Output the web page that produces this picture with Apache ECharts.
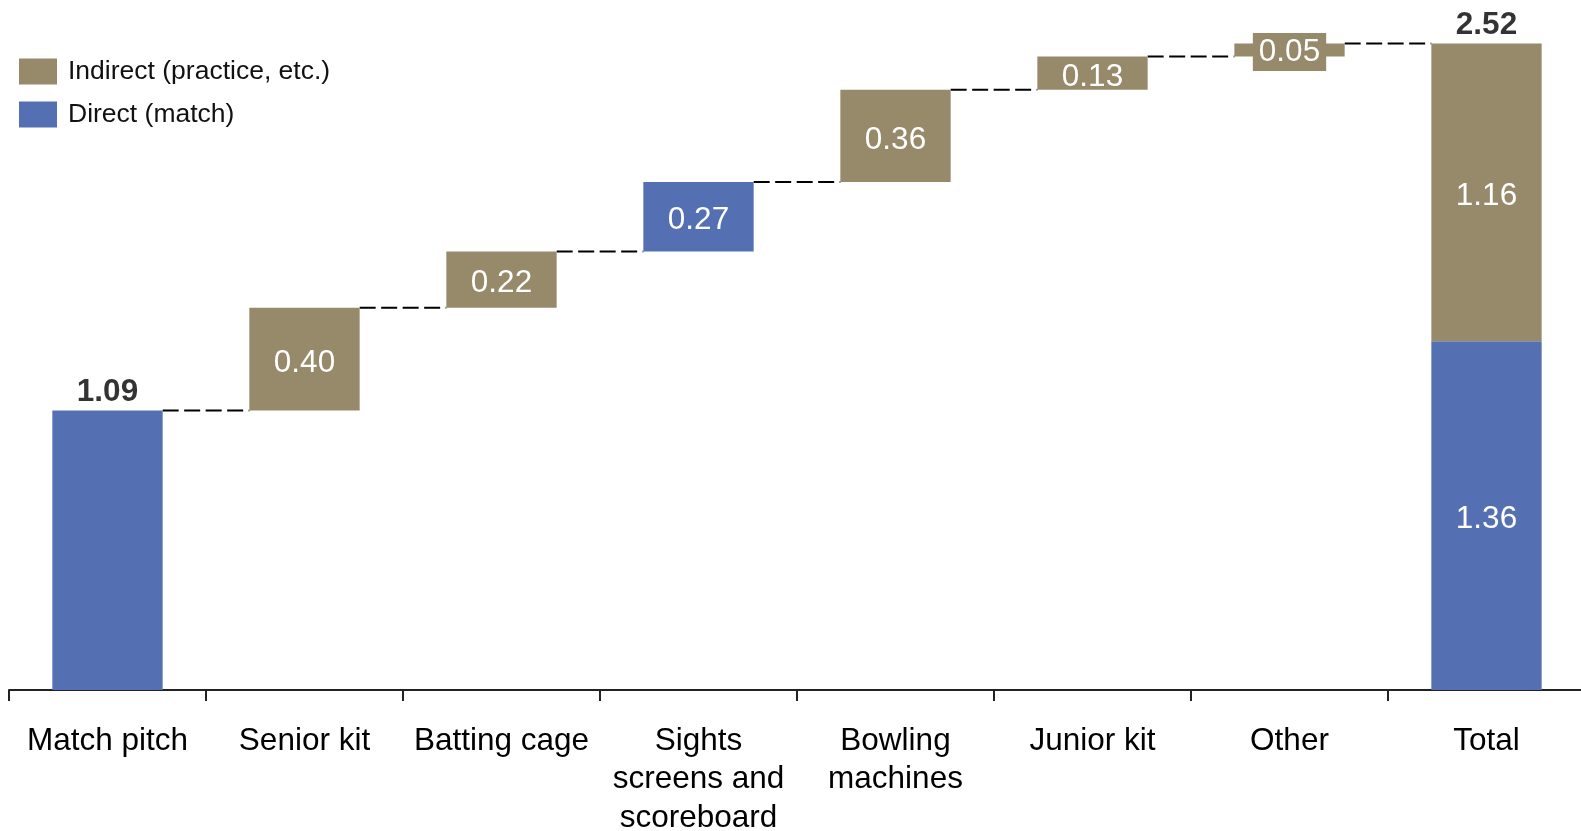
<!DOCTYPE html>
<html>
<head>
<meta charset="utf-8">
<script src="https://cdn.jsdelivr.net/npm/echarts@6/dist/echarts.min.js"></script>
<style>
  html, body { margin: 0; padding: 0; background: #fff; }
  #chart { width: 1581px; height: 831px; }
</style>
</head>
<body>
<div id="chart"></div>
<script>
// Cost build-up: each step is either a direct (match) or indirect (practice) item
const categories = ['Match pitch', 'Senior kit', 'Batting cage', 'Sights\nscreens and\nscoreboard', 'Bowling\nmachines', 'Junior kit', 'Other', 'Total'];
const directValues = [1.09, null, null, 0.27, null, null, null, 1.36];
const indirectValues = [null, 0.40, 0.22, null, 0.36, 0.13, 0.05, 1.16];
const headlineLabels = [[0, 1.09], [7, 2.52]];

const DIRECT_COLOR = '#5470b3';
const INDIRECT_COLOR = '#968a6b';
const FONT = '"Liberation Sans", Arial, sans-serif';

// Invisible base under each step, plus the running level after each step
const lastIdx = categories.length - 1;
const baseValues = [];
const levels = [];
let running = 0;
for (let i = 0; i < lastIdx; i++) {
  baseValues.push(running);
  running += (directValues[i] ?? 0) + (indirectValues[i] ?? 0);
  levels.push([i, running]);
}
baseValues.push(0);

const fmt = v => Number(v).toFixed(2);

const innerLabel = {
  show: true,
  position: 'inside',
  offset: [0, 4],
  color: '#fff',
  fontFamily: FONT,
  fontSize: 31.5,
  formatter: p => fmt(p.value)
};

const directData = directValues.map((v, i) => {
  if (v === null) return '-';
  // first bar carries its total above instead of inside
  if (i === 0) return { value: v, label: { show: false } };
  return v;
});

const indirectData = indirectValues.map((v, i) => {
  if (v === null) return '-';
  // the thin step gets a filled tag so its value stays readable
  if (i === 6) return { value: v, label: { backgroundColor: INDIRECT_COLOR, padding: [3, 6], offset: [0, 2] } };
  return v;
});

const BAR_RATIO = 0.56;

const chart = echarts.init(document.getElementById('chart'), null, { renderer: 'canvas' });
chart.setOption({
  animation: false,
  backgroundColor: '#fff',
  textStyle: { fontFamily: FONT },
  grid: { left: 9, top: 0, width: 1576, height: 690, containLabel: false, outerBoundsMode: 'none' },
  legend: {
    orient: 'vertical',
    left: 19,
    top: 58,
    padding: 0,
    icon: 'rect',
    itemWidth: 38,
    itemHeight: 26,
    itemGap: 16,
    selectedMode: false,
    data: ['Indirect (practice, etc.)', 'Direct (match)'],
    textStyle: { fontSize: 26.5, color: '#111', fontFamily: FONT, padding: [3, 0, 0, 6] }
  },
  xAxis: {
    type: 'category',
    data: categories,
    boundaryGap: true,
    axisLine: { lineStyle: { color: '#222', width: 2 } },
    axisTick: { show: true, length: 11, lineStyle: { color: '#222', width: 2 }, alignWithLabel: false, interval: 0 },
    axisLabel: {
      interval: 0,
      margin: 32,
      color: '#000',
      fontSize: 31.5,
      lineHeight: 38.5,
      fontFamily: FONT,
      align: 'center'
    }
  },
  yAxis: {
    type: 'value',
    min: 0,
    max: 2.69,
    show: false,
    splitLine: { show: false }
  },
  series: [
    {
      name: 'base',
      type: 'bar',
      stack: 'w',
      barWidth: (BAR_RATIO * 100) + '%',
      itemStyle: { color: 'transparent' },
      emphasis: { disabled: true },
      data: baseValues
    },
    {
      name: 'Direct (match)',
      type: 'bar',
      stack: 'w',
      barWidth: (BAR_RATIO * 100) + '%',
      itemStyle: { color: DIRECT_COLOR },
      label: innerLabel,
      data: directData
    },
    {
      name: 'Indirect (practice, etc.)',
      type: 'bar',
      stack: 'w',
      barWidth: (BAR_RATIO * 100) + '%',
      itemStyle: { color: INDIRECT_COLOR },
      label: innerLabel,
      data: indirectData
    },
    {
      // dashed connectors from each bar's top edge to the next bar
      name: 'connectors',
      type: 'custom',
      silent: true,
      z: 1,
      data: levels,
      renderItem: (params, api) => {
        const p = api.coord([api.value(0), api.value(1)]);
        const band = api.size([1, 0])[0];
        const half = band * BAR_RATIO / 2;
        return {
          type: 'line',
          shape: { x1: p[0] + half, y1: p[1], x2: p[0] + band - half, y2: p[1] },
          style: { stroke: '#000', lineWidth: 2, lineDash: [16, 5.5] }
        };
      }
    },
    {
      // bold totals above the first and last bars
      name: 'headline',
      type: 'scatter',
      symbolSize: 0,
      silent: true,
      data: headlineLabels,
      label: {
        show: true,
        position: 'top',
        distance: 2,
        color: '#000',
        fontWeight: 'bold',
        fontSize: 31.5,
        fontFamily: FONT,
        formatter: p => fmt(p.value[1])
      }
    }
  ]
});
</script>
</body>
</html>
